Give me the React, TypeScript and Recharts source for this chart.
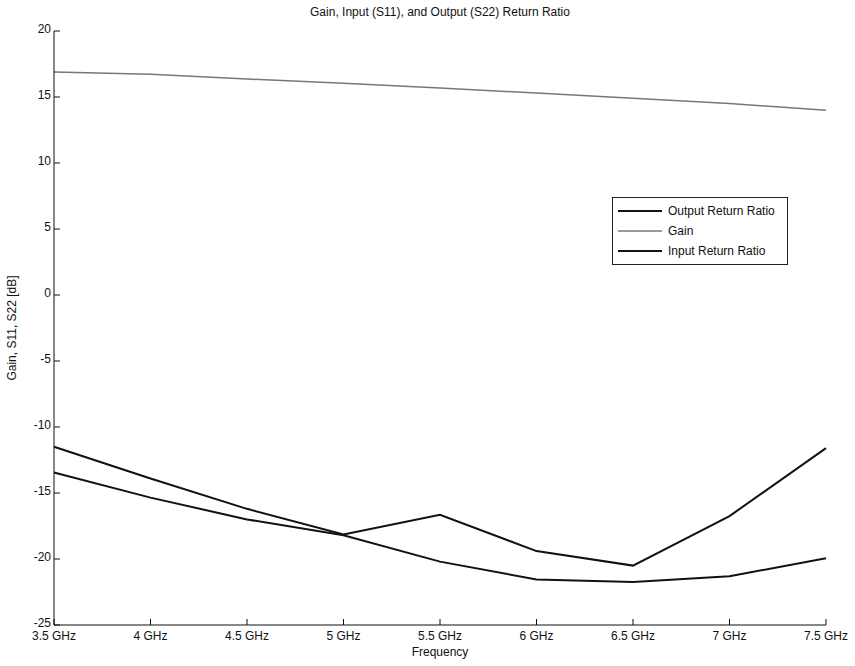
import { LineChart, Line, XAxis, YAxis } from 'recharts';

const FONT = '"Liberation Sans", Arial, sans-serif';

const freqs = [3.5, 4, 4.5, 5, 5.5, 6, 6.5, 7, 7.5];
const outputReturn = [-11.5, -13.9, -16.2, -18.15, -16.65, -19.4, -20.5, -16.75, -11.6];
const gain = [16.9, 16.72, 16.36, 16.05, 15.68, 15.3, 14.9, 14.5, 14.0];
const inputReturn = [-13.45, -15.35, -17.0, -18.2, -20.2, -21.55, -21.75, -21.3, -19.95];

const yTicks = [-25, -20, -15, -10, -5, 0, 5, 10, 15, 20];

const data = freqs.map((f, i) => ({
  f,
  output: outputReturn[i],
  gain: gain[i],
  input: inputReturn[i],
}));

const legendItems = [
  { label: 'Output Return Ratio', color: '#111', width: 2 },
  { label: 'Gain', color: '#777', width: 1.5 },
  { label: 'Input Return Ratio', color: '#111', width: 2 },
];

function LegendBox() {
  return (
    <div
      style={{
        position: 'absolute',
        left: 612,
        top: 197,
        width: 174,
        padding: '3px 0',
        border: '1px solid #222',
        background: '#fff',
        fontFamily: FONT,
        fontSize: 12,
        color: '#111',
      }}
    >
      {legendItems.map((it) => (
        <div key={it.label} style={{ display: 'flex', alignItems: 'center', height: 20 }}>
          <svg width={50} height={10} style={{ marginLeft: 5 }}>
            <line x1={0} y1={5} x2={44} y2={5} stroke={it.color} strokeWidth={it.width} />
          </svg>
          <span>{it.label}</span>
        </div>
      ))}
    </div>
  );
}

export default function App() {
  return (
    <div style={{ position: 'absolute', left: 0, top: 0, width: 855, height: 666, background: '#fff' }}>
      <div
        style={{
          position: 'absolute',
          top: 5,
          left: 54,
          width: 772,
          textAlign: 'center',
          fontFamily: FONT,
          fontSize: 12,
          color: '#111',
        }}
      >
        Gain, Input (S11), and Output (S22) Return Ratio
      </div>
      <LineChart width={855} height={666} data={data} margin={{ top: 31, right: 29, bottom: 0, left: 12 }}>
        <XAxis
          dataKey="f"
          type="number"
          domain={[3.5, 7.5]}
          ticks={freqs}
          tickFormatter={(v: number) => `${v} GHz`}
          height={41}
          stroke="#111"
          tickSize={-6}
          tickMargin={12}
          tick={{ fontFamily: FONT, fontSize: 12, fill: '#111' }}
          label={{ value: 'Frequency', position: 'insideBottom', offset: 10, style: { fontFamily: FONT, fontSize: 12, fill: '#111' } }}
        />
        <XAxis
          xAxisId="top"
          dataKey="f"
          type="number"
          orientation="top"
          domain={[3.5, 7.5]}
          ticks={freqs}
          tickFormatter={() => ''}
          height={0}
          stroke="#111"
          tickSize={-6}
        />
        <YAxis
          type="number"
          domain={[-25, 20]}
          ticks={yTicks}
          width={42}
          stroke="#111"
          tickSize={-6}
          tickMargin={9}
          tick={{ fontFamily: FONT, fontSize: 12, fill: '#111', dy: -2 }}
          label={{
            value: 'Gain, S11, S22 [dB]',
            angle: -90,
            position: 'insideLeft',
            offset: 0,
            style: { textAnchor: 'middle', fontFamily: FONT, fontSize: 12, fill: '#111' },
          }}
        />
        <YAxis
          yAxisId="right"
          orientation="right"
          type="number"
          domain={[-25, 20]}
          ticks={yTicks}
          width={0}
          stroke="#111"
          tickSize={-6}
          tickFormatter={() => ''}
        />
        <Line dataKey="output" name="Output Return Ratio" stroke="#111" strokeWidth={2} dot={false} isAnimationActive={false} />
        <Line dataKey="gain" name="Gain" stroke="#777" strokeWidth={1.5} dot={false} isAnimationActive={false} />
        <Line dataKey="input" name="Input Return Ratio" stroke="#111" strokeWidth={2} dot={false} isAnimationActive={false} />
      </LineChart>
      <LegendBox />
    </div>
  );
}
